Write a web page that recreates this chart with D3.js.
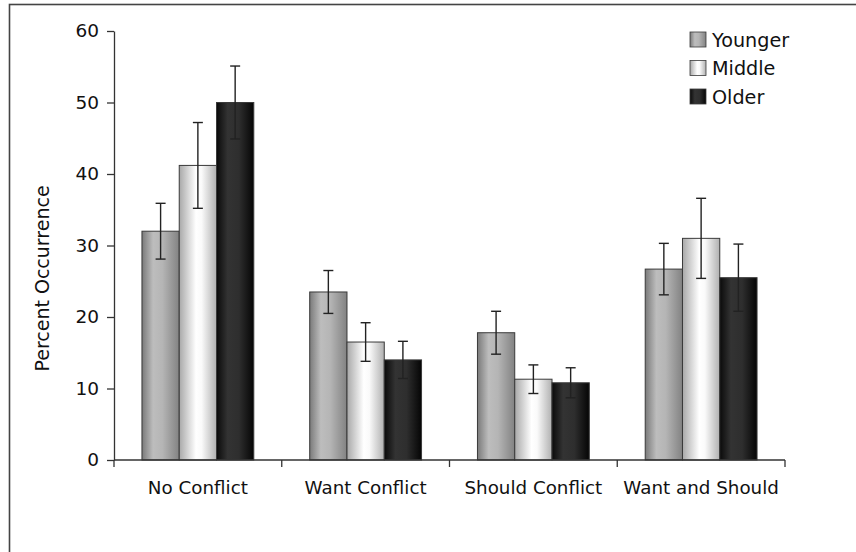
<!DOCTYPE html>
<html>
<head>
<meta charset="utf-8">
<script src="https://cdn.jsdelivr.net/npm/d3@7/dist/d3.min.js"></script>
<style>
  html, body { margin: 0; padding: 0; background: #fff; }
  svg { display: block; font-family: "DejaVu Sans", Verdana, sans-serif; }
</style>
</head>
<body>
<svg id="chart" width="856" height="552"></svg>
<script>
// Conflict type categories and age groups
const categories = ["No Conflict", "Want Conflict", "Should Conflict", "Want and Should"];
const groups = ["Younger", "Middle", "Older"];

// Mean percent occurrence per age group (one value per category)
const younger = [32.0, 23.5, 17.8, 26.7];
const middle  = [41.2, 16.5, 11.3, 31.0];
const older   = [50.0, 14.0, 10.8, 25.5];

// Error bar half-widths (standard error)
const youngerErr = [3.9, 3.0, 3.0, 3.6];
const middleErr  = [6.0, 2.7, 2.0, 5.6];
const olderErr   = [5.1, 2.6, 2.1, 4.7];

const yTicks = [0, 10, 20, 30, 40, 50, 60];

const seriesValues = [younger, middle, older];
const seriesErrs = [youngerErr, middleErr, olderErr];

const svg = d3.select("#chart");
const margin = { left: 114, right: 71, top: 31, bottom: 92 };
const W = 856, H = 552;

// outer frame
svg.append("rect")
  .attr("x", 9.5).attr("y", 4.5)
  .attr("width", 900).attr("height", 600)
  .attr("fill", "#fff")
  .attr("stroke", "#444").attr("stroke-width", 1.6);

// gradient fills per age group
const defs = svg.append("defs");
const gradStops = {
  Younger: [[0, "#7a7a7a"], [0.3, "#bdbdbd"], [0.55, "#b5b5b5"], [1, "#828282"]],
  Middle:  [[0, "#a8a8a8"], [0.45, "#ffffff"], [0.6, "#fafafa"], [1, "#b0b0b0"]],
  Older:   [[0, "#0a0a0a"], [0.3, "#333333"], [0.6, "#2e2e2e"], [1, "#050505"]]
};
groups.forEach(g => {
  const lg = defs.append("linearGradient")
    .attr("id", "grad-" + g)
    .attr("x1", "0%").attr("x2", "100%").attr("y1", "0%").attr("y2", "0%");
  gradStops[g].forEach(([o, c]) => lg.append("stop").attr("offset", o).attr("stop-color", c));
});

const x0 = d3.scaleBand()
  .domain(categories)
  .range([margin.left, W - margin.right])
  .paddingInner(0).paddingOuter(0);

const bw = x0.bandwidth();
const x1 = d3.scaleBand()
  .domain(groups)
  .range([bw / 6, bw * 5 / 6])
  .padding(0);

const y = d3.scaleLinear()
  .domain([0, 60])
  .range([H - margin.bottom, margin.top]);

// bars
const data = [];
categories.forEach((c, i) => {
  groups.forEach((g, j) => {
    data.push({ cat: c, group: g, value: seriesValues[j][i], err: seriesErrs[j][i] });
  });
});

const plot = svg.append("g");
plot.selectAll("rect.bar")
  .data(data)
  .join("rect")
  .attr("class", "bar")
  .attr("x", d => x0(d.cat) + x1(d.group))
  .attr("y", d => y(d.value))
  .attr("width", x1.bandwidth())
  .attr("height", d => y(0) - y(d.value))
  .attr("fill", d => "url(#grad-" + d.group + ")")
  .attr("stroke", "#3a3a3a")
  .attr("stroke-width", 1);

// error bars
const capHalf = 5;
const eb = plot.selectAll("g.err")
  .data(data)
  .join("g")
  .attr("class", "err")
  .attr("stroke", "#222")
  .attr("stroke-width", 1.4);
const cx = d => x0(d.cat) + x1(d.group) + x1.bandwidth() / 2;
eb.append("line")
  .attr("x1", cx).attr("x2", cx)
  .attr("y1", d => y(d.value + d.err))
  .attr("y2", d => y(d.value - d.err));
eb.append("line")
  .attr("x1", d => cx(d) - capHalf).attr("x2", d => cx(d) + capHalf)
  .attr("y1", d => y(d.value + d.err))
  .attr("y2", d => y(d.value + d.err));
eb.append("line")
  .attr("x1", d => cx(d) - capHalf).attr("x2", d => cx(d) + capHalf)
  .attr("y1", d => y(d.value - d.err))
  .attr("y2", d => y(d.value - d.err));

// y axis
const yAxis = svg.append("g")
  .attr("transform", `translate(${margin.left},0)`)
  .call(d3.axisLeft(y).tickValues(yTicks).tickSize(7).tickPadding(8).tickSizeOuter(0));
yAxis.select(".domain").attr("stroke", "#333").attr("stroke-width", 1.3);
yAxis.selectAll(".tick line").attr("stroke", "#333").attr("stroke-width", 1.3);
yAxis.selectAll(".tick text")
  .attr("font-size", 18.5).attr("fill", "#111")
  .attr("font-family", "DejaVu Sans, Verdana, sans-serif");

// x axis: ticks at category boundaries
const xAxisG = svg.append("g").attr("transform", `translate(0,${y(0)})`);
xAxisG.append("line")
  .attr("x1", margin.left).attr("x2", W - margin.right)
  .attr("y1", 0).attr("y2", 0)
  .attr("stroke", "#333").attr("stroke-width", 1.3);
const boundaries = categories.map(c => x0(c)).concat([x0(categories[categories.length - 1]) + bw]);
xAxisG.selectAll("line.xt")
  .data(boundaries)
  .join("line")
  .attr("class", "xt")
  .attr("x1", d => d).attr("x2", d => d)
  .attr("y1", 0).attr("y2", 7)
  .attr("stroke", "#333").attr("stroke-width", 1.3);
xAxisG.selectAll("text.cat")
  .data(categories)
  .join("text")
  .attr("class", "cat")
  .attr("x", d => x0(d) + bw / 2)
  .attr("y", 34)
  .attr("text-anchor", "middle")
  .attr("font-size", 18.3)
  .attr("fill", "#111")
  .text(d => d);

// y axis title
svg.append("text")
  .attr("transform", `translate(49,${(y(0) + y(60)) / 2 + 33}) rotate(-90)`)
  .attr("text-anchor", "middle")
  .attr("font-size", 19)
  .attr("fill", "#111")
  .text("Percent Occurrence");

// legend
const legend = svg.append("g").attr("transform", "translate(690,32)");
const lg = legend.selectAll("g")
  .data(groups)
  .join("g")
  .attr("transform", (d, i) => `translate(0,${i * 28.5})`);
lg.append("rect")
  .attr("width", 16).attr("height", 15)
  .attr("fill", d => "url(#grad-" + d + ")")
  .attr("stroke", "#3a3a3a").attr("stroke-width", 0.8);
lg.append("text")
  .attr("x", 22).attr("y", 14.5)
  .attr("font-size", 19.2)
  .attr("fill", "#111")
  .text(d => d);
</script>
</body>
</html>
